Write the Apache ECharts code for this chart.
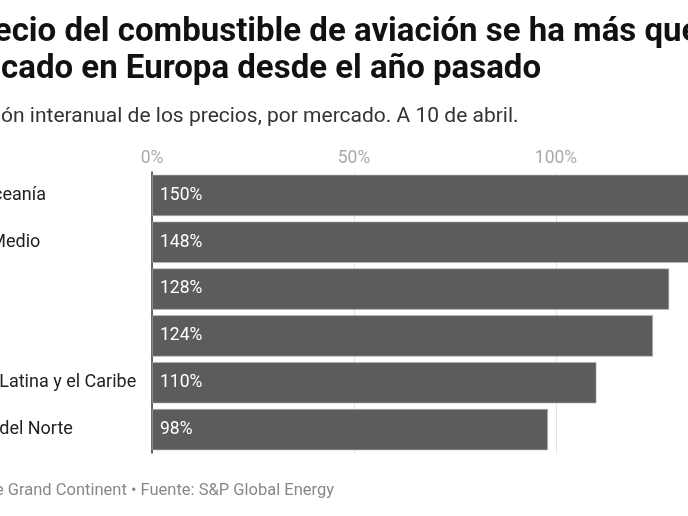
<!DOCTYPE html>
<html style="height: 100%">
<head>
<meta charset="utf-8">
<style type="text/css">
* {
	margin: 0;
	padding: 0;
}
</style>
</head>
<body style="height: 100%; margin: 0; background: #fff">
	<div id="chart" style="width: 688px; height: 516px"></div>
	<script type="text/javascript" src="https://cdn.jsdelivr.net/npm/echarts@6/dist/echarts.min.js"></script>
	<script type="text/javascript">
	// mercados y variación interanual (%)
	var mercados = ['Asia y Oceanía', 'Oriente Medio', 'Europa', 'África', 'América Latina y el Caribe', 'América del Norte'];
	var variacion = [150, 148, 128, 124, 110, 98];

	var titulo1 = 'El precio del combustible de aviación se ha más que';
	var titulo2 = 'duplicado en Europa desde el año pasado';
	var subtitulo = 'Variación interanual de los precios, por mercado. A 10 de abril.';
	var fuente = 'Le Grand Continent • Fuente: S&P Global Energy';

	var myChart = echarts.init(document.getElementById('chart'));

	var font = 'Roboto, "Noto Sans", sans-serif';

	var option = {
		backgroundColor: '#fff',
		animation: false,
		textStyle: { fontFamily: font },
		graphic: [
			{
				type: 'text', x: -72, y: 33,
				style: { text: titulo1, font: 'bold 33px ' + font, fill: '#111', textVerticalAlign: 'middle' }
			},
			{
				type: 'text', x: -72, y: 70,
				style: { text: titulo2, font: 'bold 33px ' + font, fill: '#111', textVerticalAlign: 'middle' }
			},
			{
				type: 'text', x: -63, y: 117,
				style: { text: subtitulo, font: '21px ' + font, fill: '#333', textVerticalAlign: 'middle' }
			},
			{
				type: 'text', x: 334, y: 491,
				style: { text: fuente, font: '16.5px ' + font, fill: '#888', textAlign: 'right', textVerticalAlign: 'middle' }
			}
		],
		grid: {
			left: 152,
			top: 172,
			width: 606,
			height: 281,
			outerBoundsMode: 'none',
			containLabel: false
		},
		xAxis: {
			type: 'value',
			position: 'top',
			min: 0,
			max: 150,
			interval: 50,
			axisLine: { show: false },
			axisTick: { show: false },
			axisLabel: {
				formatter: '{value}%',
				color: '#aaa',
				fontSize: 17.5,
				margin: 4
			},
			splitLine: { lineStyle: { color: '#e2e2e2', width: 1 } }
		},
		yAxis: {
			type: 'category',
			data: mercados,
			inverse: true,
			axisLine: { show: true, lineStyle: { color: '#333', width: 1.5 } },
			axisTick: { show: false },
			axisLabel: {
				align: 'left',
				margin: 224,
				color: '#222',
				fontSize: 18
			}
		},
		series: [{
			type: 'bar',
			data: variacion,
			barCategoryGap: '12%',
			itemStyle: { color: '#5c5c5c', borderColor: '#b8b8b8', borderWidth: 0.6 },
			label: {
				show: true,
				position: 'insideLeft',
				distance: 8,
				formatter: '{c}%',
				color: '#fff',
				fontSize: 17.5
			}
		}]
	};
	myChart.setOption(option);
	</script>
</body>
</html>
